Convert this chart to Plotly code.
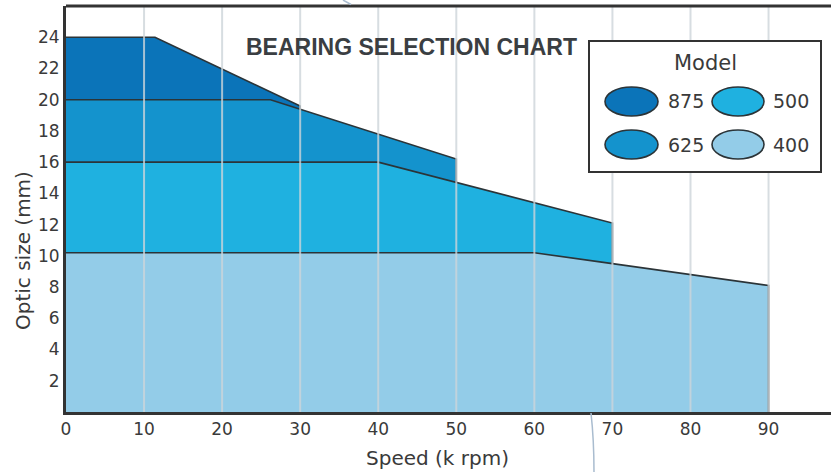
import plotly.graph_objects as go

# ---- data ----
models = ["875", "625", "500", "400"]
speed_875 = [0, 11.4, 30]
size_875 = [24, 24, 19.6]
speed_625 = [0, 26.2, 50]
size_625 = [20, 20, 16.2]
speed_500 = [0, 40, 70]
size_500 = [16, 16, 12.1]
speed_400 = [0, 60, 70, 80, 90]
size_400 = [10.2, 10.2, 9.5, 8.8, 8.1]

x_ticks = [0, 10, 20, 30, 40, 50, 60, 70, 80, 90]
y_ticks = [2, 4, 6, 8, 10, 12, 14, 16, 18, 20, 22, 24]

colors = {"875": "#0b74b9", "625": "#1493cd", "500": "#1fb1e0", "400": "#93cce8"}
series = {
    "875": (speed_875, size_875),
    "625": (speed_625, size_625),
    "500": (speed_500, size_500),
    "400": (speed_400, size_400),
}

W, H = 831, 472
ML, MR, MT, MB = 66, 0, 6, 60
PW, PH = W - ML - MR, H - MT - MB


def px(x):
    return (x - ML) / PW


def py(y):
    return (H - MB - y) / PH


fig = go.Figure()
for m in models:
    xs, ys = series[m]
    fig.add_trace(go.Scatter(
        x=list(xs) + [xs[-1]], y=list(ys) + [0],
        mode="lines", fill="tozeroy", fillcolor=colors[m],
        line=dict(color="#2b3438", width=1.6),
        name=m, showlegend=False, hoverinfo="skip",
    ))

shapes = []
# vertical grid lines drawn over the fills
for t in x_ticks[1:]:
    shapes.append(dict(type="line", xref="x", yref="paper", x0=t, x1=t, y0=0, y1=1,
                       line=dict(color="rgba(205,212,218,0.8)", width=2), layer="above"))
# top border
shapes.append(dict(type="line", xref="paper", yref="paper", x0=0, x1=1, y0=1, y1=1,
                   line=dict(color="#333333", width=3)))
# decorative arc pieces outside plot area
shapes.append(dict(type="path", xref="paper", yref="paper",
                   path=f"M {px(591)} {py(413)} Q {px(594)} {py(440)} {px(594)} {py(472)}",
                   line=dict(color="#a9bccf", width=1.5)))
shapes.append(dict(type="path", xref="paper", yref="paper",
                   path=f"M {px(343)} {py(0)} L {px(351)} {py(4.5)}",
                   line=dict(color="#a9bccf", width=1.5)))
# legend box
shapes.append(dict(type="rect", xref="paper", yref="paper",
                   x0=px(589), x1=px(821), y0=py(172), y1=py(41),
                   fillcolor="white", line=dict(color="#333333", width=2), layer="above"))
ell = {"875": (605, 658, 87, 116), "500": (712, 764, 87, 116),
       "625": (605, 658, 130, 159), "400": (712, 764, 130, 159)}
for m, (a, b, c, d) in ell.items():
    shapes.append(dict(type="circle", xref="paper", yref="paper",
                       x0=px(a), x1=px(b), y0=py(d), y1=py(c),
                       fillcolor=colors[m], line=dict(color="#2b3438", width=1.6), layer="above"))

annotations = [
    dict(text="<b>BEARING SELECTION CHART</b>", xref="paper", yref="paper", x=px(411), y=py(47),
         showarrow=False, font=dict(family="Liberation Sans", size=23, color="#3a3e42"),
         xanchor="center", yanchor="middle"),
    dict(text="Model", xref="paper", yref="paper", x=px(705), y=py(63), showarrow=False,
         font=dict(family="DejaVu Sans", size=21, color="#3a3a3a"), xanchor="center", yanchor="middle"),
    dict(text="Speed (k rpm)", xref="paper", yref="paper", x=px(437), y=py(458), showarrow=False,
         font=dict(family="DejaVu Sans", size=20, color="#3a3a3a"), xanchor="center", yanchor="middle"),
    dict(text="Optic size (mm)", xref="paper", yref="paper", x=px(23), y=py(251), showarrow=False,
         textangle=-90, font=dict(family="DejaVu Sans", size=20, color="#3a3a3a"),
         xanchor="center", yanchor="middle"),
]
lab = {"875": (686, 101), "500": (791, 101), "625": (686, 145), "400": (791, 145)}
for m, (x, y) in lab.items():
    annotations.append(dict(text=m, xref="paper", yref="paper", x=px(x), y=py(y), showarrow=False,
                            font=dict(family="DejaVu Sans", size=19, color="#3a3a3a"),
                            xanchor="center", yanchor="middle"))

fig.update_layout(
    width=W, height=H,
    margin=dict(l=ML, r=MR, t=MT, b=MB),
    paper_bgcolor="white", plot_bgcolor="white",
    shapes=shapes, annotations=annotations,
    xaxis=dict(range=[0, PW / 7.806], tickvals=x_ticks, showgrid=False, zeroline=False,
               showline=True, linecolor="#333333", linewidth=3,
               tickfont=dict(family="DejaVu Sans", size=17, color="#3a3a3a"), ticks=""),
    yaxis=dict(range=[0, PH / 15.615], tickvals=y_ticks, showgrid=False, zeroline=False,
               showline=True, linecolor="#333333", linewidth=3,
               tickfont=dict(family="DejaVu Sans", size=17, color="#3a3a3a"), ticks=""),
)

fig.write_html("out.html", config={"displayModeBar": False},
               post_script="document.body.style.margin='0';document.body.style.overflow='hidden';")
